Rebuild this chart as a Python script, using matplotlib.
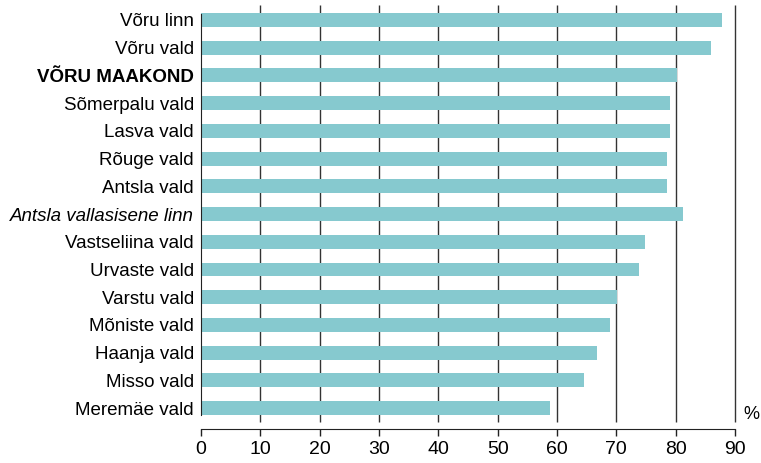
import matplotlib.pyplot as plt

plt.rcParams['font.family'] = ['Liberation Sans', 'DejaVu Sans']

labels = ['Võru linn', 'Võru vald', 'VÕRU MAAKOND', 'Sõmerpalu vald', 'Lasva vald',
          'Rõuge vald', 'Antsla vald', 'Antsla vallasisene linn', 'Vastseliina vald',
          'Urvaste vald', 'Varstu vald', 'Mõniste vald', 'Haanja vald', 'Misso vald',
          'Meremäe vald']
values = [87.8, 85.9, 80.3, 79.0, 79.0, 78.6, 78.5, 81.3, 74.8, 73.9, 70.1, 68.9,
          66.7, 64.5, 58.8]
xticks = [0, 10, 20, 30, 40, 50, 60, 70, 80, 90]

fig = plt.figure(figsize=(7.61, 4.63), dpi=100)
ax = fig.add_axes([201 / 761, 1 - 422 / 463, 534 / 761, 417 / 463])

y = range(len(labels))
ax.barh(y, values, height=0.5, color='#86c9cf', zorder=2)

ax.set_xlim(0, 90)
ax.set_ylim(len(labels) - 0.5, -0.54)
ax.set_xticks(xticks)
ax.set_yticks(list(y))
ax.set_yticklabels(labels, fontsize=13.5)
for i, t in enumerate(ax.get_yticklabels()):
    if i == 2:
        t.set_fontweight('bold')
    if i == 7:
        t.set_fontstyle('italic')

ax.tick_params(axis='y', length=0, pad=5)
ax.tick_params(axis='x', length=5, width=1, color='#222222', labelsize=14, pad=4)

# vertical grid, unclipped so the 90 line is drawn whole
ax.vlines(xticks[1:], 0, 1, transform=ax.get_xaxis_transform(), color='#333333',
          linewidth=1, zorder=1, clip_on=False)

for s in ['top', 'right']:
    ax.spines[s].set_visible(False)
ax.spines['left'].set_bounds(-0.22, 14.25)
ax.spines['left'].set_color('#222222')
ax.spines['bottom'].set_position(('outward', 5))
ax.spines['bottom'].set_color('#222222')

ax.text(1.016, 0.017, '%', transform=ax.transAxes, fontsize=13, ha='left', va='center')

fig.savefig('out.png', dpi=100)
